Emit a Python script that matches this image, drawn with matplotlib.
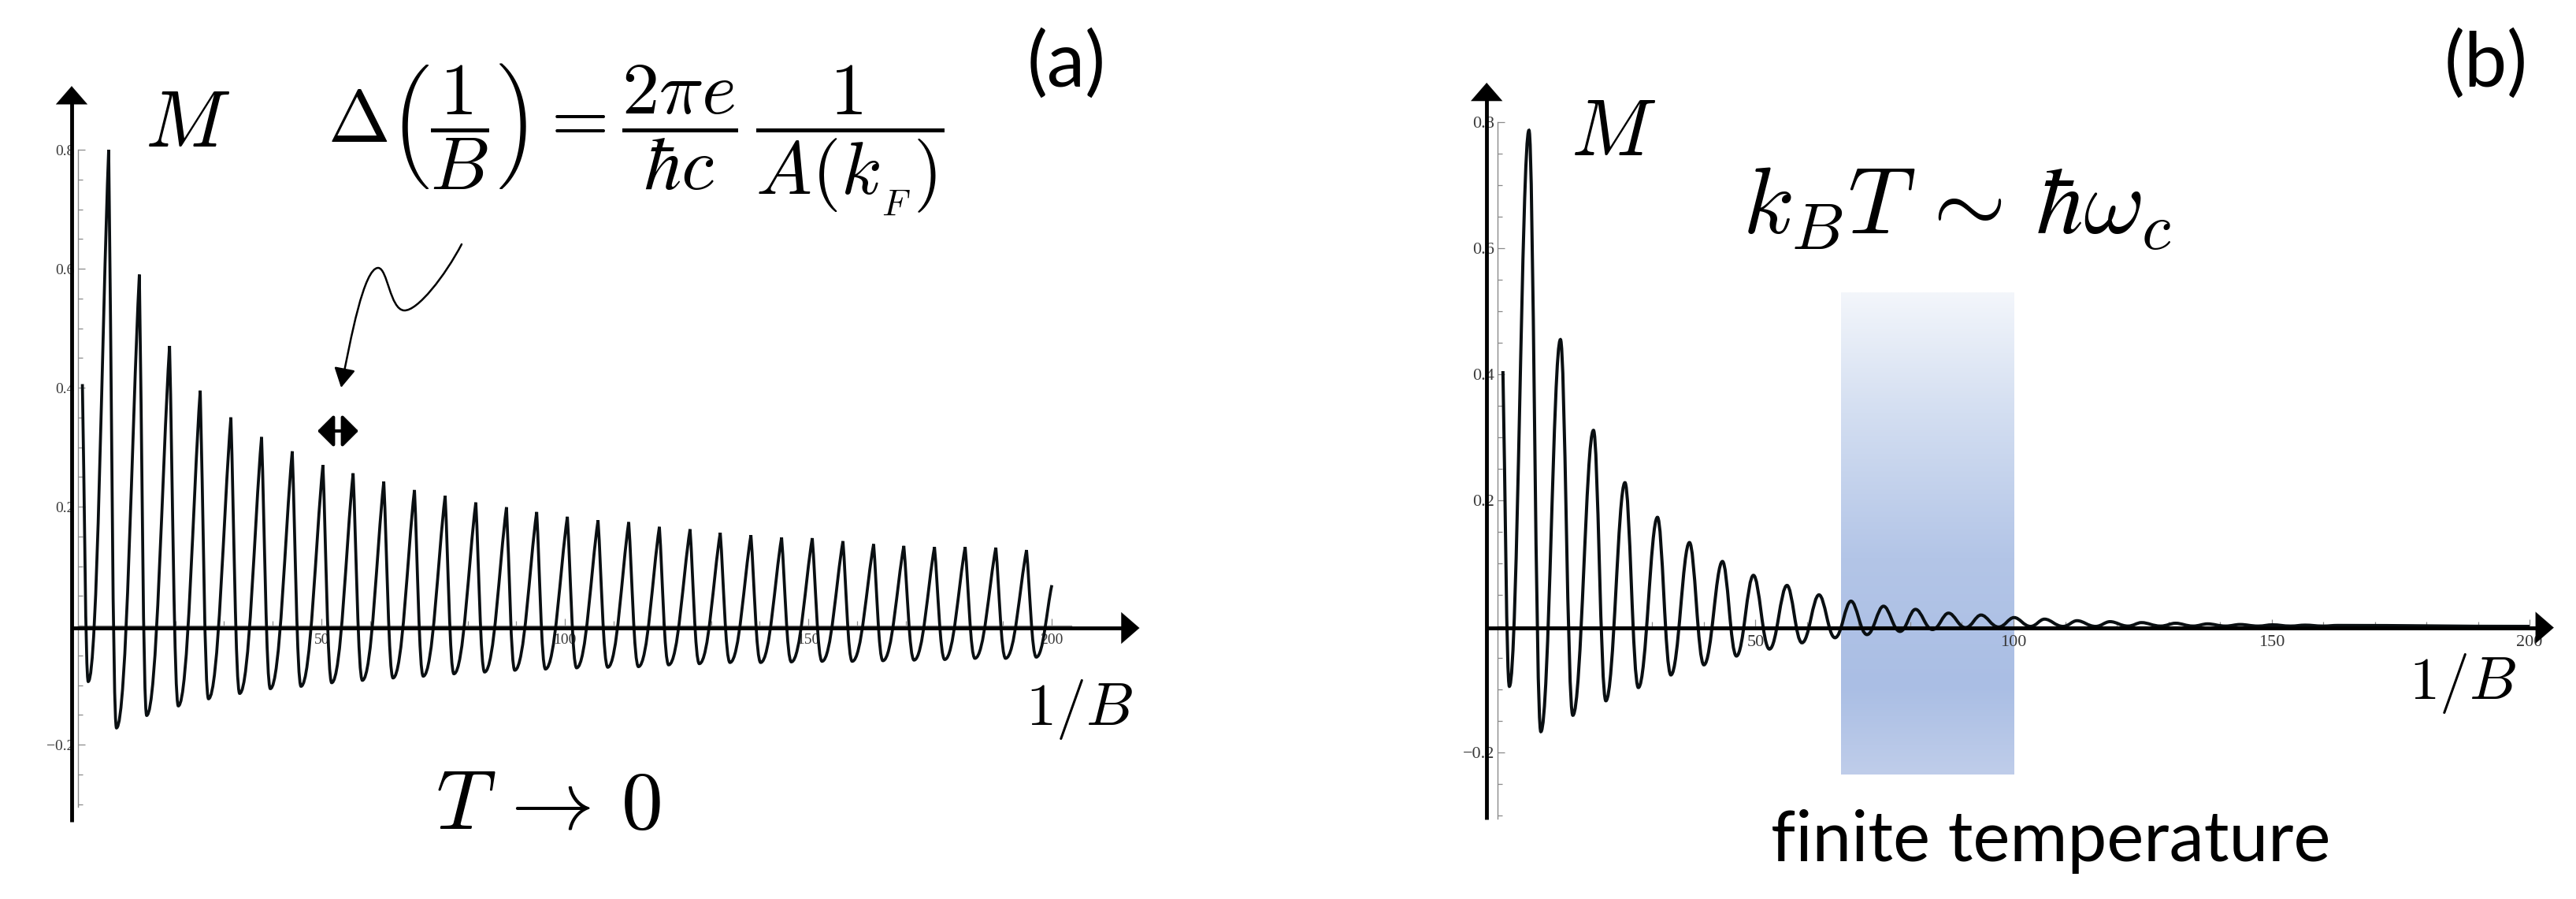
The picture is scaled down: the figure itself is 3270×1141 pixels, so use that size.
import numpy as np
import matplotlib
matplotlib.use('Agg')
import matplotlib.pyplot as plt
from matplotlib.path import Path
from matplotlib.patches import PathPatch, FancyArrowPatch
from matplotlib.colors import LinearSegmentedColormap

plt.rcParams['mathtext.fontset'] = 'cm'

#%% data
# (a) T -> 0 : sharp maxima, rounded minima
a_start = [0.9, 0.406]
a_end = [200.0, 0.068]
a_peak_x = [6.3, 12.6, 18.8, 25.1, 31.4, 37.7, 44.0, 50.3, 56.5, 62.8, 69.1, 75.4, 81.7, 88.0, 94.2,
            100.5, 106.8, 113.1, 119.4, 125.7, 131.9, 138.2, 144.5, 150.8, 157.1, 163.4, 169.6,
            175.9, 182.2, 188.5, 194.8]
a_peak_y = [0.800, 0.590, 0.470, 0.395, 0.350, 0.317, 0.293, 0.270, 0.256, 0.242, 0.228, 0.218,
            0.207, 0.199, 0.191, 0.183, 0.177, 0.174, 0.166, 0.162, 0.156, 0.152, 0.148, 0.147,
            0.142, 0.137, 0.134, 0.132, 0.132, 0.131, 0.127]
a_trough_x = [2.1, 7.9, 14.1, 20.6, 26.8, 33.2, 39.5, 45.8, 52.1, 58.4, 64.7, 70.9, 77.2, 83.5,
              89.7, 96.0, 102.4, 108.8, 115.1, 121.3, 127.6, 133.9, 140.2, 146.5, 152.8, 159.0,
              165.3, 171.7, 178.0, 184.2, 190.5, 196.8]
a_trough_y = [-0.094, -0.172, -0.151, -0.135, -0.123, -0.114, -0.106, -0.102, -0.096, -0.092,
              -0.088, -0.085, -0.081, -0.078, -0.075, -0.073, -0.071, -0.070, -0.069, -0.066,
              -0.064, -0.062, -0.062, -0.061, -0.060, -0.060, -0.059, -0.058, -0.057, -0.055,
              -0.055, -0.053]

# (b) finite temperature : damped oscillation
b_start = [1.05, 0.405]
b_end = [200.0, 0.0]
b_peak_x = [6.1, 12.2, 18.6, 24.7, 31.0, 37.2, 43.6, 49.6, 56.1, 62.3, 68.5, 74.8, 81.0, 87.4,
            93.7, 100.1, 106.0, 112.3, 118.7, 124.8, 131.4, 137.6, 143.9, 150.2, 156.5, 162.8]
b_peak_y = [0.787, 0.455, 0.311, 0.228, 0.173, 0.133, 0.103, 0.081, 0.065, 0.050, 0.040, 0.032,
            0.027, 0.021, 0.018, 0.014, 0.0115, 0.009, 0.0075, 0.006, 0.005, 0.004, 0.003,
            0.0025, 0.002, 0.0015]
b_trough_x = [2.3, 8.4, 14.6, 21.0, 27.3, 33.6, 40.0, 46.3, 52.7, 59.0, 65.4, 71.6, 78.0, 84.3,
              90.7, 97.1, 103.3, 109.6, 115.9, 122.2, 128.5, 134.8, 141.1, 147.4, 153.7, 160.0]
b_trough_y = [-0.095, -0.167, -0.141, -0.118, -0.097, -0.077, -0.061, -0.047, -0.036, -0.026,
              -0.018, -0.013, -0.008, -0.005, -0.002, -0.001, 0.0, 0.0, 0.0, 0.0005, 0.0005,
              0.0005, 0.0005, 0.0005, 0.0005, 0.0005]

band_x = [66.5, 100.0]
band_y = [-0.235, 0.53]

y_ticks = [-0.2, 0.2, 0.4, 0.6, 0.8]
y_ticklabels = ['\u22120.2', '0.2', '0.4', '0.6', '0.8']
x_ticks = [50, 100, 150, 200]
x_ticklabels = ['50', '100', '150', '200']

W, H = 3270, 1141


def fxy(x, y):  # pixel position -> figure fraction
    return x / W, 1 - y / H


def chain(start, tx, ty, px_, py_, end, r_start, r_trough, r_peak, r_end):
    xs, ys, rs = [start[0]], [start[1]], [r_start]
    for i in range(len(tx)):
        xs.append(tx[i]); ys.append(ty[i]); rs.append(r_trough)
        if i < len(px_):
            xs.append(px_[i]); ys.append(py_[i]); rs.append(r_peak)
    xs.append(end[0]); ys.append(end[1]); rs.append(r_end)
    return xs, ys, rs


def smooth_path(xs, ys, rs):
    # r > 0 : rounded extremum (horizontal tangent), r = 0 : cusp
    verts = [(xs[0], ys[0])]
    codes = [Path.MOVETO]
    for i in range(len(xs) - 1):
        x0, y0, x1, y1 = xs[i], ys[i], xs[i + 1], ys[i + 1]
        dx = x1 - x0
        c1 = (x0 + rs[i] * dx, y0) if rs[i] > 0 else (x0 + dx / 3, y0 + (y1 - y0) / 3)
        c2 = (x1 - rs[i + 1] * dx, y1) if rs[i + 1] > 0 else (x1 - dx / 3, y1 - (y1 - y0) / 3)
        verts += [c1, c2, (x1, y1)]
        codes += [Path.CURVE4] * 3
    return Path(verts, codes)


def frame(ax, labelsize, lab_pad_y, lab_pad_x):
    for s in ['top', 'right']:
        ax.spines[s].set_visible(False)
    ax.spines['left'].set_position(('data', 0))
    ax.spines['bottom'].set_position(('data', 0))
    ax.spines['left'].set_bounds(-0.305, 0.8)
    ax.spines['bottom'].set_bounds(0, 204)
    for s in ['left', 'bottom']:
        ax.spines[s].set_color('#8a8a8a')
        ax.spines[s].set_linewidth(1.0)
    ax.set_yticks(y_ticks)
    ax.set_yticklabels(y_ticklabels)
    ax.set_yticks(np.arange(-0.3, 0.81, 0.05), minor=True)
    ax.set_xticks(x_ticks)
    ax.set_xticklabels(x_ticklabels)
    ax.set_xticks(np.arange(10, 201, 10), minor=True)
    ax.tick_params(which='both', direction='in', color='#8a8a8a', width=0.9)
    ax.tick_params(which='major', length=6.5)
    ax.tick_params(which='minor', length=4)
    ax.tick_params(axis='y', pad=lab_pad_y)
    ax.tick_params(axis='x', pad=lab_pad_x)
    for t in ax.get_xticklabels() + ax.get_yticklabels():
        t.set_fontfamily('Liberation Serif')
        t.set_fontsize(labelsize)
        t.set_color('#3a3a3a')


def thick_axes(ax, x0, y_bot, y_top, x_tip, y0):
    ax.plot([x0, x0], [y_bot, y_top - 0.02], color='k', lw=3.5, solid_capstyle='butt', zorder=5)
    ax.plot([x0, x_tip - 3], [y0, y0], color='k', lw=3.5, solid_capstyle='butt', zorder=5)
    ax.annotate('', xy=(x0, y_top), xytext=(x0, y_top - 0.05),
                arrowprops=dict(arrowstyle='-|>,head_length=1.66,head_width=1.44',
                                mutation_scale=10, color='k', lw=0.1, shrinkA=0, shrinkB=0), zorder=6)
    ax.annotate('', xy=(x_tip, y0), xytext=(x_tip - 8, y0),
                arrowprops=dict(arrowstyle='-|>,head_length=1.66,head_width=1.44',
                                mutation_scale=10, color='k', lw=0.1, shrinkA=0, shrinkB=0), zorder=6)


#%%
fig = plt.figure(figsize=(W / 100, H / 100), dpi=100)

# ---------- (a) ----------
axa = fig.add_axes([0, 0, 0.5, 1])
axa.set_xlim(-16.02, 248.5)
axa.set_ylim(-0.4596, 1.0517)
frame(axa, 14, 3, 7)
xs, ys, rs = chain(a_start, a_trough_x, a_trough_y, a_peak_x, a_peak_y, a_end, 0, 0.45, 0, 0)
axa.add_patch(PathPatch(smooth_path(xs, ys, rs), fill=False, ec='#0a0f12', lw=2.7,
                        joinstyle='miter', zorder=4))
thick_axes(axa, -1.3, -0.33, 0.907, 218, -0.004)

# ---------- (b) ----------
axb = fig.add_axes([0.5, 0, 0.5, 1])
axb.set_xlim(-40.6, 209.0)
axb.set_ylim(-0.4325, 0.99375)
frame(axb, 16, 3, 8)
band_cmap = LinearSegmentedColormap.from_list(
    'band', [(0.0, '#bfcdea'), (0.18, '#aabee4'), (0.45, '#b3c5e7'),
             (0.75, '#d3def1'), (1.0, '#f3f6fb')])
grad = np.linspace(0, 1, 256).reshape(-1, 1)
axb.imshow(grad, cmap=band_cmap, origin='lower', aspect='auto',
           extent=(band_x[0], band_x[1], band_y[0], band_y[1]), zorder=0)
axb.set_xlim(-40.6, 209.0)
axb.set_ylim(-0.4325, 0.99375)
xs, ys, rs = chain(b_start, b_trough_x, b_trough_y, b_peak_x, b_peak_y, b_end, 0, 0.42, 0.36, 0.4)
axb.add_patch(PathPatch(smooth_path(xs, ys, rs), fill=False, ec='#0a0f12', lw=2.9, zorder=4))
thick_axes(axb, -2.1, -0.306, 0.8625, 204.7, -0.002)

#%% annotations
fig.text(*fxy(184, 186), r'$M$', fontsize=73, va='baseline', ha='left')
fig.text(*fxy(1994, 197), r'$M$', fontsize=73, va='baseline', ha='left')
fig.text(*fxy(416, 177),
         r'$\Delta\left(\dfrac{1}{B}\right)=\dfrac{2\pi e}{\hbar c}\,\dfrac{1}{A(k_{_F})}$',
         fontsize=68, va='center', ha='left')
fig.text(*fxy(553, 1052), r'$T\,\rightarrow\,0$', fontsize=76, va='baseline', ha='left')
fig.text(*fxy(1302, 920), r'$1/B$', fontsize=55, va='baseline', ha='left')
fig.text(*fxy(3058, 887), r'$1/B$', fontsize=55, va='baseline', ha='left')
fig.text(*fxy(2212, 297), r'$k_BT\,\sim\,\hbar\omega_c$', fontsize=86, va='baseline', ha='left')
fig.text(*fxy(1304, 82), '(a)', fontsize=70, family='Lato', va='center', ha='left')
fig.text(*fxy(3103, 82), '(b)', fontsize=70, family='Lato', va='center', ha='left')
fig.text(*fxy(2248, 1093), 'finite temperature', fontsize=64, family='Lato',
         va='baseline', ha='left')

# squiggly arrow pointing at the period
sq = [(586, 310), (565, 350), (530, 395), (513, 394),
      (495, 393), (492, 340), (480, 340),
      (462, 340), (445, 430), (433, 492)]
sq = [fxy(x, y) for x, y in sq]
sq_path = Path(sq, [Path.MOVETO] + [Path.CURVE4] * 9)
fig.add_artist(FancyArrowPatch(path=sq_path, transform=fig.transFigure,
                               arrowstyle='-|>,head_length=1.5,head_width=0.83',
                               mutation_scale=10, color='k', lw=1.8))
# double arrow marking one period
fig.add_artist(FancyArrowPatch(fxy(403, 547), fxy(455, 547), transform=fig.transFigure,
                               arrowstyle='<|-|>,head_length=1.25,head_width=1.25',
                               mutation_scale=10, color='k', lw=3.0, shrinkA=0, shrinkB=0))

plt.savefig('out.png', dpi=100)
